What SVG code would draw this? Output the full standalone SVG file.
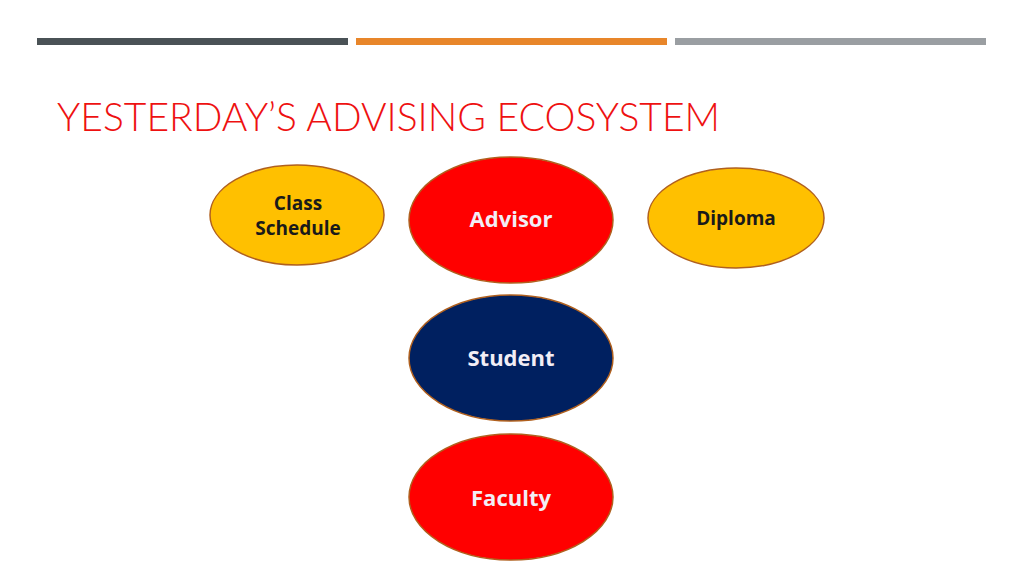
<svg xmlns="http://www.w3.org/2000/svg" width="1024" height="576" viewBox="0 0 1024 576">
<style>
.node{stroke:#B0601E;stroke-width:1.5}
.red{fill:#FF0000}
.yel{fill:#FFC000}
.navy{fill:#002060}
.lbl{font-family:"Open Sans","Lato","Liberation Sans",sans-serif;font-weight:700;text-anchor:middle}
.lt{fill:#F2EEF6;font-size:22px}
.dk{fill:#1A1A1A;font-size:19px}
</style>
<rect width="1024" height="576" fill="#FFFFFF"/>
<g id="bars">
<rect x="37" y="38" width="311" height="7" fill="#4A5256"/>
<rect x="356" y="38" width="311" height="7" fill="#E8862A"/>
<rect x="675" y="38" width="311" height="7" fill="#9A9EA2"/>
</g>
<text id="title" x="57" y="131" font-family="Lato,'Open Sans','Liberation Sans',sans-serif" font-weight="300" font-size="39" fill="#EE1111" textLength="663" lengthAdjust="spacingAndGlyphs">YESTERDAY’S ADVISING ECOSYSTEM</text>
<g id="connectors"></g>
<g id="class-schedule">
<ellipse class="node yel" cx="297" cy="215" rx="87" ry="50"/>
<text class="lbl dk" x="298" y="210">Class</text>
<text class="lbl dk" x="298" y="235">Schedule</text>
</g>
<g id="advisor">
<ellipse class="node red" cx="511" cy="220" rx="102" ry="63"/>
<text class="lbl lt" x="511" y="227">Advisor</text>
</g>
<g id="diploma">
<ellipse class="node yel" cx="736" cy="218" rx="88" ry="50"/>
<text class="lbl dk" x="736" y="225">Diploma</text>
</g>
<g id="student">
<ellipse class="node navy" cx="511" cy="358" rx="102" ry="63"/>
<text class="lbl lt" x="511" y="366">Student</text>
</g>
<g id="faculty">
<ellipse class="node red" cx="511" cy="497" rx="102" ry="63"/>
<text class="lbl lt" x="511" y="506">Faculty</text>
</g>
</svg>
